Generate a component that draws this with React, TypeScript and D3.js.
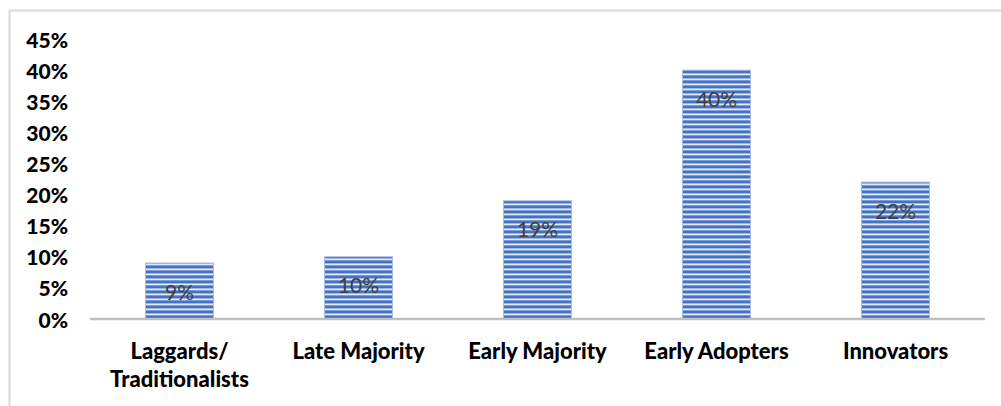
import React from 'react';
import * as d3 from 'd3';

const categories = ['Laggards/\nTraditionalists', 'Late Majority', 'Early Majority', 'Early Adopters', 'Innovators'];
const values = [0.09, 0.10, 0.19, 0.40, 0.22];
const yTicks = [0, 0.05, 0.1, 0.15, 0.2, 0.25, 0.3, 0.35, 0.4, 0.45];

const W = 1001;
const H = 406;
const font = 'Lato, "Liberation Sans", sans-serif';

export default function App() {
    const x = d3.scaleBand<string>()
        .domain(categories)
        .range([90, 985])
        .paddingInner(0.62)
        .paddingOuter(0.31);

    const y = d3.scaleLinear()
        .domain([0, 0.45])
        .range([319, 39]);

    const pct = d3.format('.0%');

    return (
        <svg width={W} height={H} style={{ position: 'absolute', left: 0, top: 0 }}>
            <defs>
                <pattern id="stripes" width="8" height="5" patternUnits="userSpaceOnUse">
                    <rect width="8" height="5" fill="#e4ebf7" />
                    <rect y="0" width="8" height="1" fill="#7c9bd4" />
                    <rect y="1" width="8" height="2" fill="#4472c4" />
                    <rect y="3" width="8" height="1" fill="#9fb5e0" />
                </pattern>
            </defs>
            <rect x={9.5} y={10.5} width={W} height={H} fill="#fff" stroke="#d9d9d9" strokeWidth={2} />

            {yTicks.map(t => (
                <text key={t} x={68} y={y(t)} textAnchor="end" dominantBaseline="central"
                    fontFamily={font} fontWeight="900" fontSize={21} fill="#000">{pct(t)}</text>
            ))}

            {values.map((v, i) => {
                const c = categories[i];
                const bx = x(c)!;
                return (
                    <g key={c}>
                        <rect x={bx} y={y(v)} width={x.bandwidth()} height={y(0) - y(v)}
                            fill="url(#stripes)" stroke="#a9bde4" strokeWidth={1} />
                        <text x={bx + x.bandwidth() / 2} y={y(v) + 28} textAnchor="middle" dominantBaseline="central"
                            fontFamily={font} fontSize={21} fill="#404040">{pct(v)}</text>
                    </g>
                );
            })}

            <line x1={90} x2={985} y1={y(0)} y2={y(0)} stroke="#bfbfbf" strokeWidth={2.5} />

            {categories.map(c => (
                <text key={c} x={x(c)! + x.bandwidth() / 2} y={359} textAnchor="middle"
                    fontFamily={font} fontWeight="900" fontSize={22} fill="#000">
                    {c.split('\n').map((line, j) => (
                        <tspan key={j} x={x(c)! + x.bandwidth() / 2} dy={j === 0 ? 0 : 28}>{line}</tspan>
                    ))}
                </text>
            ))}
        </svg>
    );
}
